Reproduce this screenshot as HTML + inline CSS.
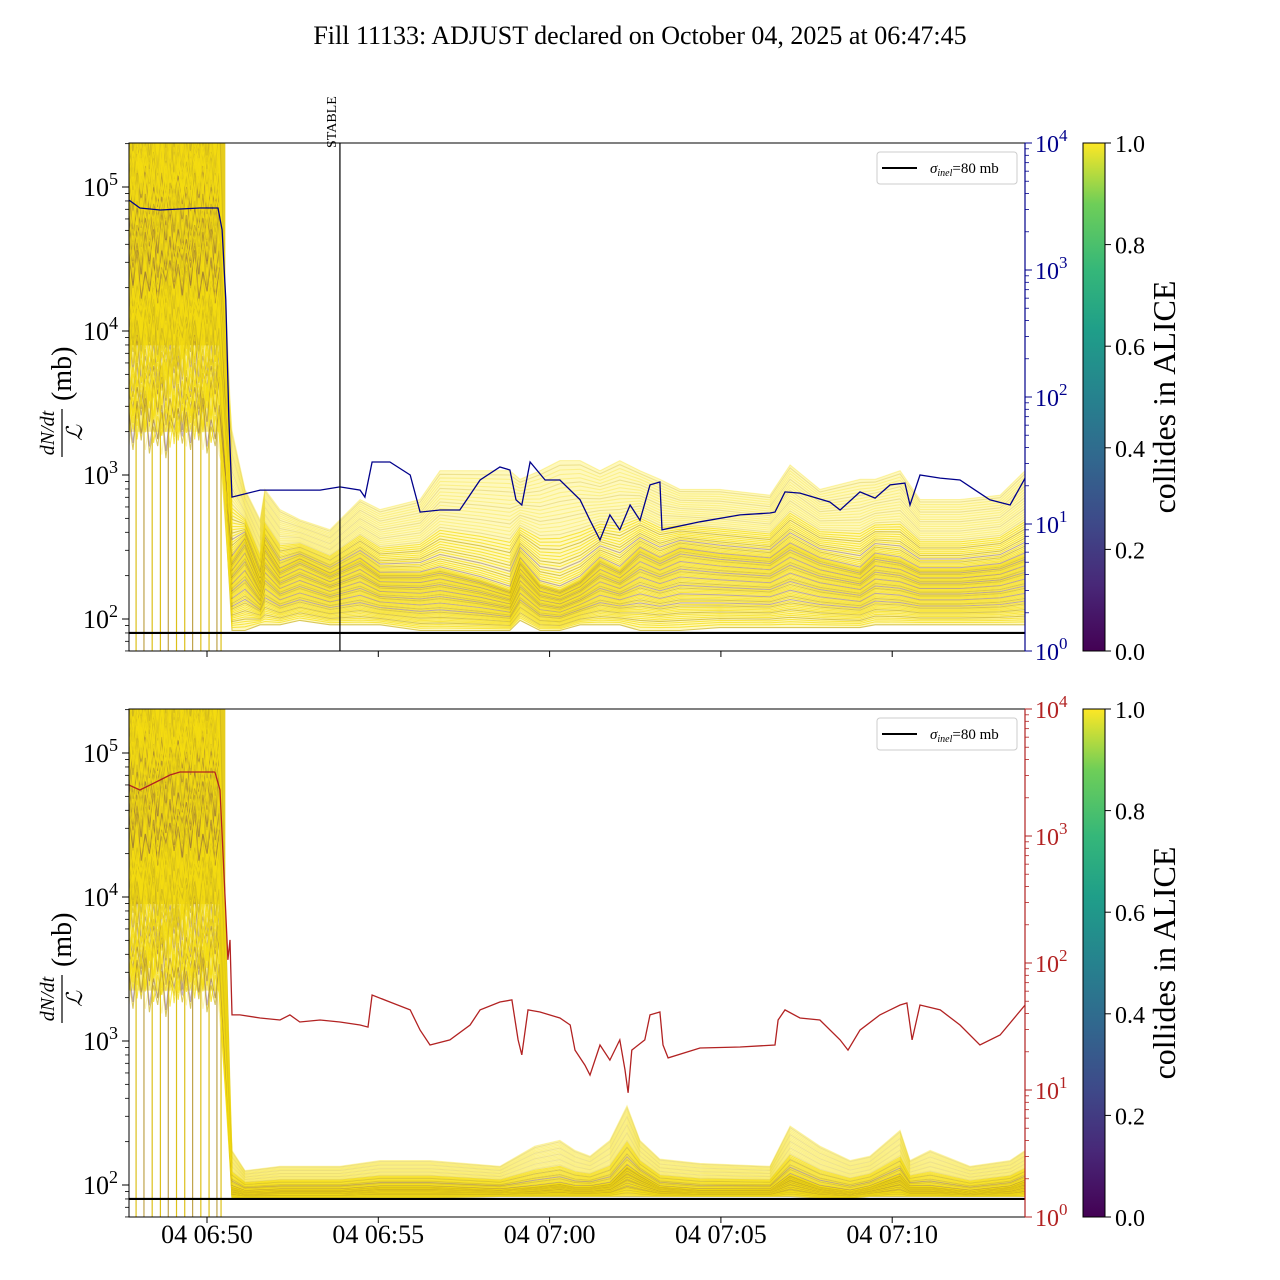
<!DOCTYPE html>
<html><head><meta charset="utf-8"><style>
html,body{margin:0;padding:0;background:#fff;}
svg{display:block;font-family:"Liberation Serif",serif;}
</style></head><body>
<svg id="chart" width="1280" height="1280" viewBox="0 0 1280 1280" xmlns="http://www.w3.org/2000/svg">
<defs>
<linearGradient id="viridis" x1="0" y1="1" x2="0" y2="0">
<stop offset="0" stop-color="#440154"/><stop offset="0.13" stop-color="#482878"/><stop offset="0.25" stop-color="#3e4989"/><stop offset="0.38" stop-color="#31688e"/><stop offset="0.5" stop-color="#26828e"/><stop offset="0.63" stop-color="#1f9e89"/><stop offset="0.75" stop-color="#35b779"/><stop offset="0.88" stop-color="#6ece58"/><stop offset="1" stop-color="#fde725"/>
</linearGradient>
<clipPath id="clipTop"><rect x="129" y="143" width="896" height="508"/></clipPath>
<clipPath id="clipBot"><rect x="129" y="709" width="896" height="508"/></clipPath>
</defs>
<text x="640" y="44" text-anchor="middle" font-size="26">Fill 11133: ADJUST declared on October 04, 2025 at 06:47:45</text>
<g id="top"></g>
<g id="bot"></g>
</svg>
<script>
// ---- data ----
const xTickMinutes = [0, 5, 10, 15, 20];
const xTickLabels = ["04 06:50", "04 06:55", "04 07:00", "04 07:05", "04 07:10"];
const cbTicks = [0.0, 0.2, 0.4, 0.6, 0.8, 1.0];
const sigmaInel = 80;
const stableMinute = 3.88;

// blue line (top, right axis)
const blueT = [-2.28,-1.96,-1.37,-0.20,0.32,0.44,0.55,0.64,0.73,0.96,1.55,2.13,2.71,3.30,3.88,4.47,4.61,4.82,5.34,5.93,6.22,6.80,7.38,7.97,8.55,8.84,9.02,9.19,9.43,9.87,10.30,10.89,11.18,11.47,11.76,12.05,12.35,12.64,12.93,13.22,13.28,14.39,15.56,16.43,16.58,16.87,17.31,18.18,18.48,19.06,19.50,19.94,20.37,20.52,20.81,21.40,21.98,22.42,22.85,23.44,23.88];
const blueV = [3556,3076,2967,3076,3076,2065,581,66,16.3,16.9,18.5,18.5,18.5,18.5,19.6,18.5,16.3,30.8,30.8,24.3,12.4,12.9,12.9,22.2,28.1,26.6,15.5,14.1,30.8,22.2,22.2,15.5,10.7,7.5,11.8,9.0,14.1,10.7,20.3,21.4,9.0,10.4,11.8,12.2,12.4,17.9,17.5,14.9,12.9,17.9,16.0,20.3,21.0,14.1,24.3,23.0,22.2,18.5,15.5,14.1,23.0];

// red line (bottom, right axis)
const redT = [-2.28,-1.96,-1.66,-1.37,-1.08,-0.79,-0.20,0.23,0.38,0.53,0.61,0.67,0.73,0.96,1.55,2.13,2.42,2.71,3.30,3.88,4.47,4.70,4.82,5.34,5.93,6.22,6.51,7.09,7.68,7.97,8.55,8.90,9.08,9.19,9.37,9.72,10.30,10.60,10.74,11.03,11.18,11.47,11.76,12.05,12.20,12.29,12.40,12.78,12.93,13.22,13.31,13.46,14.39,15.56,16.58,16.67,16.87,17.31,17.89,18.48,18.71,19.06,19.64,20.23,20.43,20.58,20.81,21.40,21.98,22.56,23.15,23.88];
const redV = [2523,2302,2523,2761,3020,3192,3192,3192,2302,313,106,152,39,39,36.9,35.6,39,34.3,35.6,34.3,32.5,31.3,56,49.3,42.7,29.6,22.6,24.8,32.5,42.7,49.3,51.2,24.8,18.9,42.7,41.1,36.9,32.5,20.6,15.7,13.1,22.6,17.2,24.8,14.4,9.5,20.6,24.8,39,41.1,22.6,17.9,21.4,21.8,22.6,35.6,42.7,36.9,35.6,24.8,20.6,29.6,39,46.7,48.4,24.8,46.7,42.7,32.5,22.6,27.1,46.7];

// top band (log10 of dN/dt/L in mb)
const topBandT = [0.73,1.11,1.55,1.69,2.13,2.71,3.59,4.47,5.05,6.22,6.80,7.97,8.84,9.14,9.72,10.30,10.89,11.47,12.05,12.64,13.22,13.81,14.97,16.43,17.02,17.89,19.06,19.50,20.23,20.81,21.98,23.15,23.88];
const topBandUp = [3.31,2.90,2.69,2.90,2.76,2.69,2.62,2.83,2.76,2.83,3.03,3.03,3.03,2.97,3.03,3.10,3.10,3.03,3.10,3.03,2.97,2.90,2.90,2.86,3.07,2.90,2.97,2.97,3.03,2.83,2.83,2.86,3.03];
const topBandCore = [2.41,2.55,2.27,2.51,2.34,2.41,2.31,2.41,2.31,2.31,2.34,2.27,2.20,2.41,2.24,2.20,2.27,2.41,2.34,2.48,2.41,2.48,2.44,2.41,2.51,2.41,2.34,2.44,2.41,2.34,2.34,2.37,2.44];
const topBandLo = [1.92,1.92,1.96,1.96,1.96,1.99,1.96,1.96,1.96,1.92,1.92,1.92,1.92,1.99,1.92,1.92,1.96,1.96,1.96,1.92,1.92,1.92,1.94,1.94,1.94,1.94,1.94,1.96,1.96,1.96,1.96,1.96,1.96];

// bottom band
const botBandT = [0.73,1.11,2.13,3.88,5.05,6.51,8.55,9.57,10.30,10.74,11.18,11.76,12.26,12.64,13.22,14.39,16.43,17.02,17.89,18.77,19.35,20.23,20.52,21.11,22.27,23.44,23.88];
const botBandUp = [2.24,2.10,2.13,2.13,2.17,2.17,2.13,2.27,2.31,2.24,2.20,2.31,2.55,2.31,2.18,2.15,2.13,2.41,2.27,2.17,2.20,2.38,2.17,2.24,2.13,2.17,2.24];
const botBandCore = [1.99,1.96,1.97,1.97,1.99,1.99,1.97,1.99,2.01,1.99,1.99,2.01,2.13,2.07,1.99,1.97,1.97,2.07,1.99,1.96,1.99,2.07,1.99,1.99,1.96,1.99,2.03];
const botBandLo = [1.91,1.91,1.91,1.91,1.91,1.91,1.92,1.92,1.92,1.92,1.92,1.92,1.92,1.92,1.92,1.92,1.92,1.92,1.91,1.91,1.92,1.92,1.92,1.92,1.92,1.92,1.92];

// pre-drop region (log10 ranges)
const preT = [-2.28,-2.16,-2.04,-1.92,-1.80,-1.68,-1.56,-1.44,-1.32,-1.20,-1.08,-0.96,-0.84,-0.72,-0.60,-0.48,-0.36,-0.24,-0.12,0.00,0.12,0.24,0.36];
const topPre = {up: 5.5, lo: 3.3, solid: 3.9};
const botPre = {up: 5.5, lo: 3.35, solid: 3.95};
const jitter = [0.30,-0.42,0.55,-0.20,0.62,-0.50,0.12,-0.33,0.45,-0.61,0.22,-0.08,0.38,-0.27];
const dropLineT = [-2.07,-1.84,-1.60,-1.36,-1.13,-0.89,-0.65,-0.42,-0.18,0.06,0.29,0.41];

// ---- helpers ----
const NS = "http://www.w3.org/2000/svg";
function mk(tag, attrs, parent){const e=document.createElementNS(NS,tag);for(const k in attrs)e.setAttribute(k,attrs[k]);if(parent)parent.appendChild(e);return e;}
const xS = t => 207 + t*34.26;
function panel(gid, top, rightColor, lineT, lineV, bandT, up, core, lo, pre, clipId){
  const g = document.getElementById(gid);
  const bot = top + 508;
  const yL = e => top + 44 + (5 - e)*144;
  const yR = v => top + (4 - Math.log10(v))*127;
  const plot = mk('g',{'clip-path':`url(#${clipId})`},g);
  
  
  // vertical drop lines
  dropLineT.forEach((t,i)=>{
    const l = mk('line',{x1:xS(t),x2:xS(t),y1:top,y2:bot,stroke:i%3===1?'#b89a3a':'#d8b900','stroke-width':1.2,'stroke-opacity':0.9},plot);
    
    
  });
  // pre-drop solid fill
  const x0 = xS(preT[0]), x1 = xS(preT[preT.length-1]);
  const pf = mk('rect',{x:x0,y:top,width:x1-x0+6,height:yL(pre.solid)-top,fill:'#e6cc1c'},plot);
  
  
  const pf2 = mk('rect',{x:x0,y:yL(pre.solid),width:x1-x0+6,height:yL(pre.lo)-yL(pre.solid),fill:'#f0dc40','fill-opacity':0.55},plot);
  
  
  // band envelope fill
  let pts=[];
  bandT.forEach((t,k)=>pts.push(xS(t)+','+yL(up[k])));
  for(let k=bandT.length-1;k>=0;k--) pts.push(xS(bandT[k])+','+yL(lo[k]));
  const env = mk('polygon',{points:pts.join(' '),fill:'#fde725','fill-opacity':0.3},plot);
  
  
  const N = 90;
  for(let i=0;i<N;i++){
    const f = i/(N-1);
    const purple = (i%6===2) && f>0.15 && f<0.75;
    const g2 = (i*37 % N)/N;
    let d = '';
    preT.forEach((t,k)=>{
      const e = pre.lo + (pre.up-pre.lo)*g2 + jitter[(k+i*5)%jitter.length]*0.3;
      d += (k?'L':'M') + xS(t).toFixed(1)+','+yL(e).toFixed(1);
    });
    bandT.forEach((t,k)=>{
      let e;
      if(f<0.6) e = lo[k] + (core[k]-lo[k])*Math.pow(f/0.6,0.8);
      else e = core[k] + (up[k]-core[k])*Math.pow((f-0.6)/0.4,1.3);
      d += 'L'+xS(t).toFixed(1)+','+yL(e).toFixed(1);
    });
    const p = mk('path',{d:d,fill:'none',stroke:purple?'#4a1a5e':(i%4===0?'#c9b020':'#f5dd10'),'stroke-width':1.1,'stroke-opacity':purple?0.35:(f>0.8?0.3:0.7)},plot);
    
    
  }
  const sl = mk('line',{x1:129,x2:1025,y1:yL(Math.log10(sigmaInel)),y2:yL(Math.log10(sigmaInel)),stroke:'#000','stroke-width':2.2},plot);
  
  
  let d2='';
  lineT.forEach((t,k)=>{d2+=(k?'L':'M')+xS(t).toFixed(1)+','+yR(lineV[k]).toFixed(1);});
  const rl = mk('path',{d:d2,fill:'none',stroke:rightColor,'stroke-width':1.3},plot);
  
  
  const fr = mk('rect',{x:129,y:top,width:896,height:508,fill:'none',stroke:'#000','stroke-width':1},g);
  
  
  for(let dec=1;dec<=5;dec++){
    for(let m=1;m<10;m++){
      const e = dec+Math.log10(m); const y=yL(e);
      if(y<top-0.5||y>bot+0.5) continue;
      mk('line',{x1:129,x2:m===1?122:125,y1:y,y2:y,stroke:'#000','stroke-width':m===1?1:0.8},g);
    }
    const y=yL(dec);
    if(y>=top && y<=bot){
      const tx = mk('text',{x:118,y:y+9,'text-anchor':'end','font-size':26},g);
      
      
      tx.innerHTML = `10<tspan dy="-11" font-size="18">${dec}</tspan>`;
    }
  }
  for(let dec=0;dec<=4;dec++){
    for(let m=1;m<10;m++){
      const v=Math.pow(10,dec)*m; const y=yR(v);
      if(y<top-0.5||y>bot+0.5) continue;
      mk('line',{x1:1025,x2:m===1?1032:1029,y1:y,y2:y,stroke:rightColor,'stroke-width':m===1?1:0.8},g);
      if(dec===4) break;
    }
    const y=yR(Math.pow(10,dec));
    const tx = mk('text',{x:1035,y:y+9,'font-size':24,fill:rightColor},g);
    
    
    tx.innerHTML = `10<tspan dy="-11" font-size="17">${dec}</tspan>`;
  }
  mk('line',{x1:1025,x2:1025,y1:top,y2:bot,stroke:rightColor,'stroke-width':1.2},g);
  xTickMinutes.forEach(m=>mk('line',{x1:xS(m),x2:xS(m),y1:bot,y2:bot+6,stroke:'#000'},g));
  const yl = mk('g',{transform:`translate(62,${top+250}) rotate(-90)`},g);
  
  
  const t1 = mk('text',{x:-40,y:-8,'text-anchor':'middle','font-size':20,'font-style':'italic'},yl); t1.textContent='dN/dt';
  mk('line',{x1:-64,x2:-16,y1:0,y2:0,stroke:'#000','stroke-width':1.2},yl);
  const t2 = mk('text',{x:-40,y:20,'text-anchor':'middle','font-size':22,'font-style':'italic'},yl); t2.textContent='ℒ';
  const t3 = mk('text',{x:-8,y:9,'font-size':28},yl); t3.textContent='(mb)';
  const lg = mk('g',{},g);
  
  
  mk('rect',{x:877,y:top+9,width:140,height:32,rx:3,fill:'#fff',stroke:'#ccc'},lg);
  mk('line',{x1:882,x2:917,y1:top+25,y2:top+25,stroke:'#000','stroke-width':2},lg);
  const lt = mk('text',{x:930,y:top+30,'font-size':15},lg);
  lt.innerHTML = '<tspan font-style="italic">σ</tspan><tspan font-size="10" dy="3" font-style="italic">inel</tspan><tspan dy="-3">=80 mb</tspan>';
  const cb = mk('g',{},g);
  
  
  mk('rect',{x:1083,y:top,width:22,height:508,fill:'url(#viridis)',stroke:'#000','stroke-width':1},cb);
  cbTicks.forEach(v=>{
    const y = bot - v*508;
    mk('line',{x1:1105,x2:1111,y1:y,y2:y,stroke:'#000'},cb);
    const ct = mk('text',{x:1115,y:y+9,'font-size':24},cb); ct.textContent=v.toFixed(1);
    
    
  });
  const cl = mk('text',{transform:`translate(1175,${top+254}) rotate(-90)`,'text-anchor':'middle','font-size':32},cb);
  cl.textContent='collides in ALICE';
  
  
  return g;
}
const gTop = panel('top',143,'#00008b',blueT,blueV,topBandT,topBandUp,topBandCore,topBandLo,topPre,'clipTop');
const gBot = panel('bot',709,'#b22222',redT,redV,botBandT,botBandUp,botBandCore,botBandLo,botPre,'clipBot');
const sx = xS(stableMinute);
const sline = mk('line',{x1:sx,x2:sx,y1:143,y2:651,stroke:'#000','stroke-width':1.2},gTop);


const stxt = mk('text',{transform:`translate(${sx-4},148) rotate(-90)`,'font-size':14},gTop);
stxt.textContent='STABLE';


xTickMinutes.forEach((m,i)=>{
  const t = mk('text',{x:xS(m),y:1243,'text-anchor':'middle','font-size':26},gBot);
  t.textContent = xTickLabels[i];
  
  
});
</script>
</body></html>
